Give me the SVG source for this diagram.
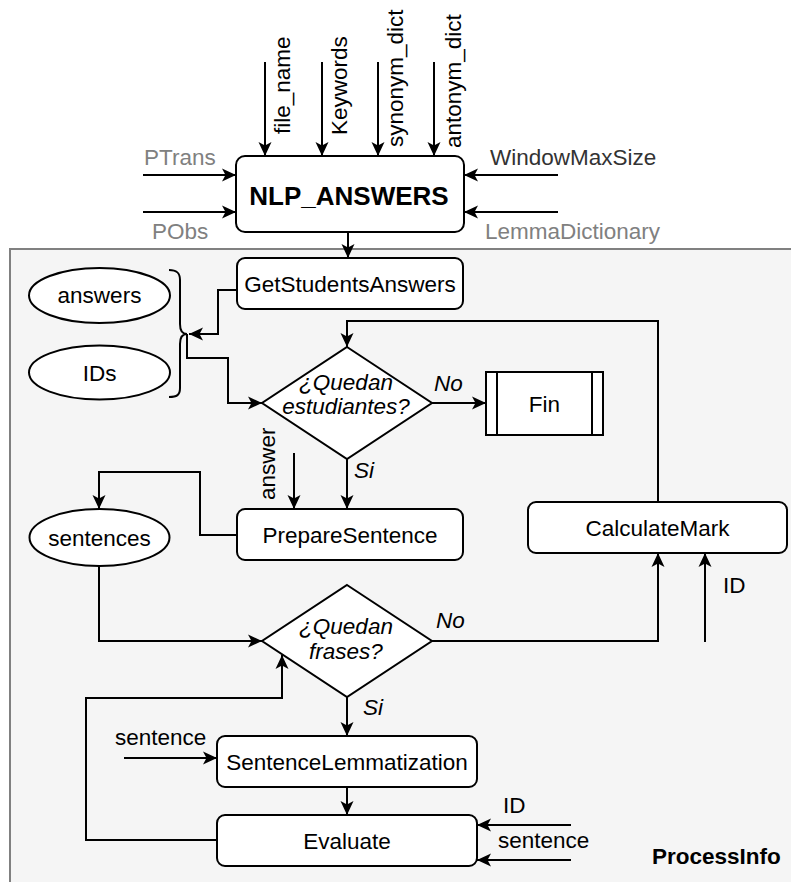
<svg xmlns="http://www.w3.org/2000/svg" width="791" height="882" viewBox="0 0 791 882">
  <style>
    text { font-family: "Liberation Sans", Arial, sans-serif; font-size: 22.5px; fill: #000; }
    .b { font-weight: bold; }
    .i { font-style: italic; }
    .m { text-anchor: middle; }
    .g { fill: #808080; }
    .box { fill: #fff; stroke: #000; stroke-width: 2; }
    .edge { fill: none; stroke: #000; stroke-width: 2; }
    .edge path { marker-end: url(#arr); }
  </style>
  <defs>
    <marker id="arr" viewBox="0 0 15 15" refX="14" refY="7.5" markerWidth="15" markerHeight="15" orient="auto" markerUnits="userSpaceOnUse">
      <path d="M0,1 L14,7.5 L0,14 L3.5,7.5 Z" fill="#000" stroke="none"/>
    </marker>
  </defs>

  <!-- ProcessInfo container -->
  <g id="processinfo">
    <rect x="10" y="249" width="800" height="650" fill="#f5f5f5" stroke="#808080" stroke-width="2"/>
    <text class="b" x="652" y="864">ProcessInfo</text>
  </g>

  <!-- connectors -->
  <g id="connectors" class="edge">
    <path d="M265,62 V156"/>
    <path d="M322,62 V156"/>
    <path d="M378,62 V156"/>
    <path d="M434,62 V156"/>
    <path d="M143,175 H236"/>
    <path d="M143,212 H236"/>
    <path d="M558,175 H464"/>
    <path d="M558,212 H464"/>
    <path d="M348,232 V258"/>
    <path d="M237,290 H218 V334 H189"/>
    <path d="M187,334 V358 H228 V403 H262"/>
    <path d="M432,403 H486"/>
    <path d="M658,502 V321 H347 V347"/>
    <path d="M347,459 V509"/>
    <path d="M294,453 V509"/>
    <path d="M237,535 H200 V472 H99 V509"/>
    <path d="M99,566 V641 H262"/>
    <path d="M432,641 H658 V553"/>
    <path d="M705,642 V553"/>
    <path d="M347,697 V736"/>
    <path d="M124,758 H217"/>
    <path d="M347,787 V815"/>
    <path d="M217,840 H86 V698 H282 V655"/>
    <path d="M571,825 H477"/>
    <path d="M571,860 H477"/>
  </g>

  <!-- main function block with its inputs -->
  <g id="nlp_answers">
    <rect class="box" x="236" y="156" width="228" height="76" rx="9"/>
    <text class="b m" x="349" y="205" style="font-size:26px">NLP_ANSWERS</text>
  </g>
  <g id="inputs">
    <text transform="translate(290,134) rotate(-90)">file_name</text>
    <text transform="translate(347,135) rotate(-90)">Keywords</text>
    <text transform="translate(403,147) rotate(-90)">synonym_dict</text>
    <text transform="translate(461,148) rotate(-90)">antonym_dict</text>
    <text class="g" x="144" y="165">PTrans</text>
    <text class="g" x="152" y="239">PObs</text>
    <text x="490" y="165" style="fill:#333">WindowMaxSize</text>
    <text class="g" x="485" y="239">LemmaDictionary</text>
  </g>

  <g id="get_students_answers">
    <rect class="box" x="237" y="258" width="226" height="51" rx="8"/>
    <text class="m" x="350" y="291.5">GetStudentsAnswers</text>
  </g>

  <g id="answers">
    <ellipse class="box" cx="99.5" cy="295.5" rx="70.5" ry="27.5"/>
    <text class="m" x="99.5" y="303">answers</text>
  </g>
  <g id="ids">
    <ellipse class="box" cx="99.5" cy="372.5" rx="70.5" ry="27"/>
    <text class="m" x="99.5" y="380.5">IDs</text>
  </g>
  <g id="brace">
    <path d="M169,270 C177,270 180,273 180,280 L180,324 C180,330 182,334 187,334 C182,334 180,338 180,344 L180,388 C180,395 177,397 169,397" fill="none" stroke="#000" stroke-width="2"/>
  </g>

  <g id="students_left">
    <path class="box" d="M347,347 L432,403 L347,459 L262,403 Z"/>
    <text class="i m" x="346" y="390">¿Quedan</text>
    <text class="i m" x="346" y="414">estudiantes?</text>
    <text class="i" x="434" y="391">No</text>
    <text class="i" x="354" y="478">Si</text>
  </g>

  <g id="fin">
    <rect class="box" x="486" y="372" width="117" height="63"/>
    <path d="M497,372 V435 M592,372 V435" stroke="#000" stroke-width="2"/>
    <text class="m" x="544.5" y="411.5">Fin</text>
  </g>

  <g id="prepare_sentence">
    <rect class="box" x="237" y="509" width="226" height="51" rx="8"/>
    <text class="m" x="350" y="542.5">PrepareSentence</text>
    <text transform="translate(275,500) rotate(-90)">answer</text>
  </g>

  <g id="sentences">
    <ellipse class="box" cx="99.5" cy="537.5" rx="70" ry="28.5"/>
    <text class="m" x="99.5" y="545.5">sentences</text>
  </g>

  <g id="calculate_mark">
    <rect class="box" x="528" y="502" width="259" height="51" rx="8"/>
    <text class="m" x="657.5" y="536">CalculateMark</text>
    <text x="723" y="593">ID</text>
  </g>

  <g id="sentences_left">
    <path class="box" d="M347,585 L432,641 L347,697 L262,641 Z"/>
    <text class="i m" x="346" y="634">¿Quedan</text>
    <text class="i m" x="346" y="659">frases?</text>
    <text class="i" x="436" y="628">No</text>
    <text class="i" x="363" y="715">Si</text>
  </g>

  <g id="sentence_lemmatization">
    <rect class="box" x="217" y="736" width="260" height="51" rx="8"/>
    <text class="m" x="347" y="769.5">SentenceLemmatization</text>
    <text x="115" y="745">sentence</text>
  </g>

  <g id="evaluate">
    <rect class="box" x="217" y="815" width="260" height="51" rx="8"/>
    <text class="m" x="347" y="848.5">Evaluate</text>
    <text x="503" y="813">ID</text>
    <text x="498" y="848">sentence</text>
  </g>
</svg>
